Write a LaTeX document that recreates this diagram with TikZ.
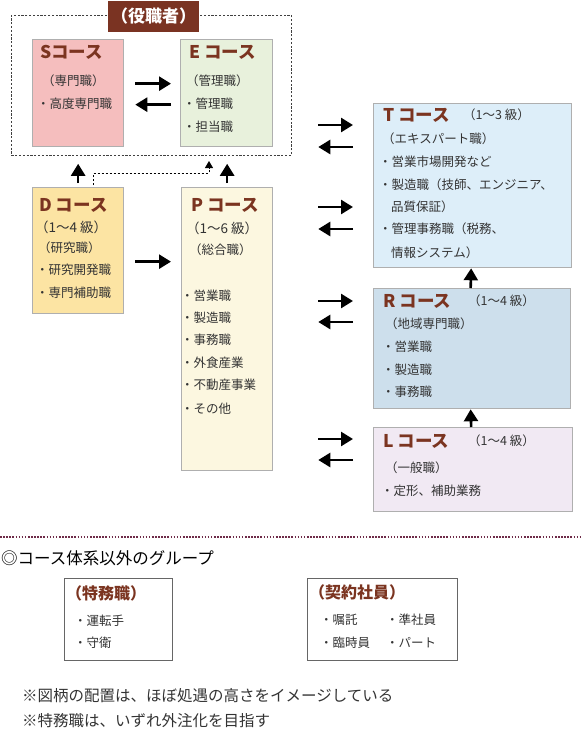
\documentclass[tikz,border=0pt]{standalone}
\usepackage{fontspec}
\setmainfont{Noto Sans CJK JP}
\usetikzlibrary{arrows.meta,calc}
\definecolor{ttl}{HTML}{7B3420}
\definecolor{lblfill}{HTML}{7A3322}
\definecolor{txtc}{HTML}{333333}
\definecolor{bordc}{HTML}{AFAFAF}
\definecolor{sfill}{HTML}{F5BEBE}
\definecolor{efill}{HTML}{E8F1DC}
\definecolor{dfill}{HTML}{FCE4A3}
\definecolor{pfill}{HTML}{FCF7E0}
\definecolor{tfill}{HTML}{DDEEF9}
\definecolor{rfill}{HTML}{CDDFEC}
\definecolor{lfill}{HTML}{F1E9F3}
\definecolor{sepc}{HTML}{6E2B48}
\begin{document}
\begin{tikzpicture}[x=1pt,y=-1pt,
  cbox/.style={draw=bordc,line width=1.3pt,inner sep=0pt,anchor=north west},
  obox/.style={draw=black!60,line width=1.3pt,fill=white,inner sep=0pt,anchor=north west},
  grp/.style={draw=black!75,line width=0.8pt,dash pattern=on 2.2pt off 1.6pt,inner sep=0pt,anchor=north west},
  txt/.style={anchor=west,inner sep=0pt,text=txtc,font=\fontsize{12.5}{14}\selectfont},
  ttlt/.style={anchor=west,inner sep=0pt,text=ttl,font=\fontsize{17.5}{19}\selectfont\bfseries},
  btitle/.style={anchor=west,inner sep=0pt,text=ttl,font=\fontsize{16}{18}\selectfont\bfseries},
  note/.style={anchor=west,inner sep=0pt,text=txtc,font=\fontsize{15.5}{17}\selectfont},
  arr/.style={line width=2.6pt,-{Triangle[length=12pt,width=14pt]}},
  dconn/.style={line width=0.9pt,dash pattern=on 2.5pt off 1.5pt,-{Triangle[length=7pt,width=8pt]}}
]
\useasboundingbox (0,0) rectangle (582,731);

% group of executive courses
\node[grp,minimum width=280pt,minimum height=140pt] (G) at (11,15) {};
\node[fill=lblfill,minimum width=91pt,minimum height=31pt,inner sep=0pt,text=white,
      font=\fontsize{17}{19}\selectfont\bfseries] (GL) at (153.5,16.5) {（役職者）};

% course boxes
\node[cbox,fill=sfill,minimum width=91pt,minimum height=107pt] (S) at (32,39) {};
\node[cbox,fill=efill,minimum width=92pt,minimum height=107pt] (E) at (180,39) {};
\node[cbox,fill=dfill,minimum width=91pt,minimum height=126pt] (D) at (32,187) {};
\node[cbox,fill=pfill,minimum width=91pt,minimum height=283pt] (P) at (181,187) {};
\node[cbox,fill=tfill,minimum width=198pt,minimum height=164pt] (T) at (373,103) {};
\node[cbox,fill=rfill,minimum width=197pt,minimum height=120pt] (R) at (373,288) {};
\node[cbox,fill=lfill,minimum width=199pt,minimum height=84pt] (L) at (373,427) {};

% S texts
\node[ttlt] (s0) at (40,52) {Sコース};
\node[txt] (s1) at (42,81) {（専門職）};
\node[txt] (s2) at (37,104) {・高度専門職};
% E texts
\node[ttlt] (e0) at (189,52) {E コース};
\node[txt] (e1) at (186,81) {（管理職）};
\node[txt] (e2) at (183,104) {・管理職};
\node[txt] (e3) at (183,127) {・担当職};
% D texts
\node[ttlt] (d0) at (39,205) {D コース};
\node[txt,font=\fontsize{13.5}{15}\selectfont] (d1) at (35,227) {（1～4 級）};
\node[txt] (d2) at (38,248) {（研究職）};
\node[txt] (d3) at (36,270) {・研究開発職};
\node[txt] (d4) at (36,293) {・専門補助職};
% P texts
\node[ttlt] (p0) at (191,205) {P コース};
\node[txt,font=\fontsize{13.5}{15}\selectfont] (p1) at (186,228) {（1～6 級）};
\node[txt] (p2) at (189,250) {（総合職）};
\node[txt] (p3) at (181,296) {・営業職};
\node[txt] (p4) at (181,318) {・製造職};
\node[txt] (p5) at (181,340) {・事務職};
\node[txt] (p6) at (181,363) {・外食産業};
\node[txt] (p7) at (181,385) {・不動産事業};
\node[txt] (p8) at (181,409) {・その他};
% T texts
\node[ttlt] (t0) at (383,115) {T コース};
\node[txt] (t1) at (463,115) {（1～3 級）};
\node[txt] (t2) at (382,139) {（エキスパート職）};
\node[txt] (t3) at (379,162) {・営業市場開発など};
\node[txt] (t4) at (379,185) {・製造職（技師、エンジニア、};
\node[txt] (t5) at (391,207) {品質保証）};
\node[txt] (t6) at (379,229) {・管理事務職（税務、};
\node[txt] (t7) at (391,253) {情報システム）};
% R texts
\node[ttlt] (r0) at (383,301) {R コース};
\node[txt] (r1) at (468,301) {（1～4 級）};
\node[txt] (r2) at (385,324) {（地域専門職）};
\node[txt] (r3) at (382,347) {・営業職};
\node[txt] (r4) at (382,370) {・製造職};
\node[txt] (r5) at (382,392) {・事務職};
% L texts
\node[ttlt] (l0) at (383,441) {L コース};
\node[txt] (l1) at (468,441) {（1～4 級）};
\node[txt] (l2) at (385,468) {（一般職）};
\node[txt] (l3) at (381,491) {・定形、補助業務};

% arrows S <-> E
\draw[arr,shorten <=11pt,shorten >=9pt] ([yshift=9.5pt]S.east) -- ([yshift=9.5pt]E.west);
\draw[arr,shorten <=9pt,shorten >=11pt] ([yshift=-11.5pt]E.west) -- ([yshift=-11.5pt]S.east);
% D -> P
\draw[arr,shorten <=11pt,shorten >=10pt] ([yshift=-11pt]D.east) -- ([yshift=-11pt]D.east -| P.west);
% D, P -> group
\draw[arr,shorten <=4pt] (D.north) -- ([yshift=-8pt]D.north |- G.south);
\draw[arr,shorten <=4pt] (P.north) -- ([yshift=-8pt]P.north |- G.south);
\coordinate (dj) at (209,161);
\draw[dconn] ([xshift=15.5pt,yshift=2pt]D.north) -- ++(0,-12) -| (dj);

% P <-> T
\draw[arr,shorten <=45pt,shorten >=20pt] (P.east |- 0,125) -- (T.west |- 0,125);
\draw[arr,shorten <=20pt,shorten >=45pt] (T.west |- 0,147) -- (P.east |- 0,147);
\draw[arr,shorten <=45pt,shorten >=20pt] (P.east |- 0,207) -- (T.west |- 0,207);
\draw[arr,shorten <=20pt,shorten >=45pt] (T.west |- 0,229) -- (P.east |- 0,229);
% P <-> R
\draw[arr,shorten <=45pt,shorten >=20pt] (P.east |- 0,301) -- (R.west |- 0,301);
\draw[arr,shorten <=20pt,shorten >=45pt] (R.west |- 0,322) -- (P.east |- 0,322);
% P <-> L
\draw[arr,shorten <=45pt,shorten >=20pt] (P.east |- 0,439) -- (L.west |- 0,439);
\draw[arr,shorten <=20pt,shorten >=45pt] (L.west |- 0,460) -- (P.east |- 0,460);
% R -> T, L -> R
\draw[arr] ([xshift=-1.5pt]R.north) -- ([xshift=-1.5pt]T.south);
\draw[arr] ([xshift=-2pt]L.north) -- ([xshift=-1.5pt]R.south);

% separator
\coordinate (sepl) at (0,537);
\coordinate (sepr) at (582,537);
\draw[sepc,line width=1.6pt,dash pattern=on 1.6pt off 1.5pt] (sepl) -- (sepr);

% other groups
\node[anchor=west,inner sep=0pt,text=black,font=\fontsize{16.5}{18}\selectfont] (hd) at (1,558) {◎コース体系以外のグループ};
\node[obox,minimum width=108pt,minimum height=82pt] (K) at (64,578) {};
\node[btitle] (k0) at (66,593) {（特務職）};
\node[txt] (k1) at (74,621) {・運転手};
\node[txt] (k2) at (74,643) {・守衛};
\node[obox,minimum width=150pt,minimum height=82pt] (C) at (307,578) {};
\node[btitle] (c0) at (309,592) {（契約社員）};
\node[txt] (c1) at (320,620) {・嘱託};
\node[txt] (c2) at (386,620) {・準社員};
\node[txt] (c3) at (320,643) {・臨時員};
\node[txt] (c4) at (386,643) {・パート};

% notes
\node[note] (n1) at (22,696) {※図柄の配置は、ほぼ処遇の高さをイメージしている};
\node[note] (n2) at (22,721) {※特務職は、いずれ外注化を目指す};
\end{tikzpicture}
\end{document}
